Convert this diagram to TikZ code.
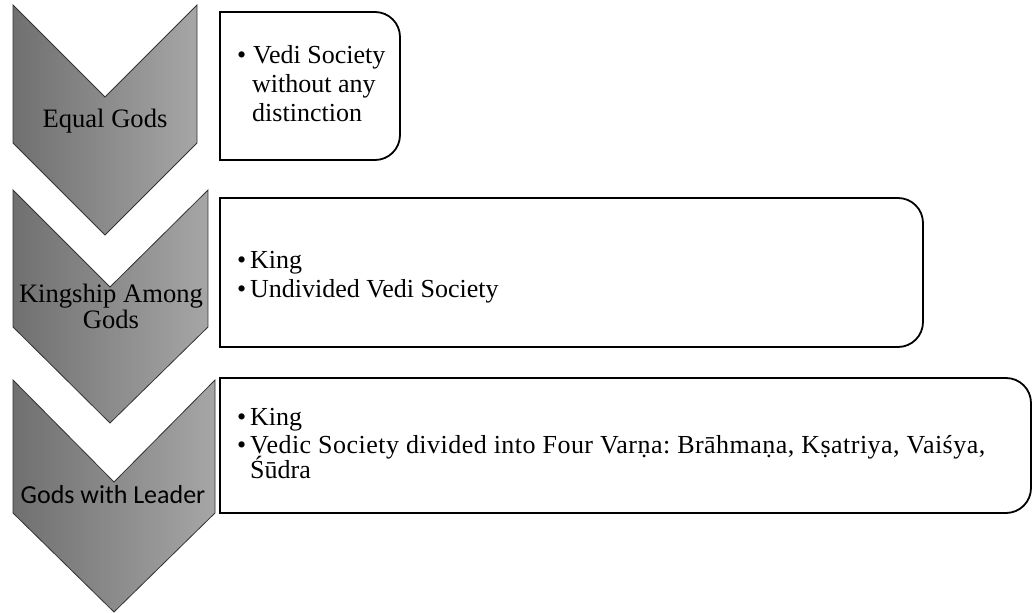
\documentclass[tikz,border=0pt]{standalone}
\usepackage{fontspec}
\setmainfont{Liberation Serif}
\newfontfamily\carlito{Carlito}
\frenchspacing
\begin{document}
\begin{tikzpicture}[x=1pt,y=1pt,
  chev/.style={draw=black!80,line width=0.8pt,left color={rgb,255:red,112;green,112;blue,112},right color={rgb,255:red,166;green,166;blue,166}},
  boxline/.style={draw=black,line width=1.8pt,fill=white},
  lab/.style={font=\fontsize{26.6}{29}\selectfont,inner sep=0pt,anchor=base},
  txt/.style={font=\fontsize{26}{29}\selectfont,inner sep=0pt,anchor=base west}]
\useasboundingbox (0,0) rectangle (1034,-613);
% chevrons
\path[chev] (13,-5) -- (105,-97) -- (197,-5) -- (197,-143) -- (105,-235) -- (13,-143) -- cycle;
\path[chev] (13,-190) -- (110,-287) -- (208,-190) -- (208,-327) -- (110,-423) -- (13,-327) -- cycle;
\path[chev] (13,-380) -- (114,-482) -- (215,-380) -- (215,-513) -- (114,-612) -- (13,-513) -- cycle;
\node[lab] (c1) at (105,-127) {Equal Gods};
\node[lab] (c2a) at (111,-302) {Kingship Among};
\node[lab] (c2b) at (111,-328) {Gods};
\node[lab,font=\carlito\fontsize{26}{29}\selectfont] (c3) at (113,-503) {Gods with Leader};
% boxes
\path[boxline] (220,-12) -- (375,-12) arc[start angle=90,end angle=0,radius=25] -- (400,-135) arc[start angle=0,end angle=-90,radius=25] -- (220,-160) -- cycle;
\path[boxline] (220,-198) -- (898,-198) arc[start angle=90,end angle=0,radius=25] -- (923,-322) arc[start angle=0,end angle=-90,radius=25] -- (220,-347) -- cycle;
\path[boxline] (220,-378) -- (1006,-378) arc[start angle=90,end angle=0,radius=25] -- (1031,-488) arc[start angle=0,end angle=-90,radius=25] -- (220,-513) -- cycle;
% box texts
\node[txt] (b1d) at (237,-63) {•};
\node[txt] (b1a) at (253,-63) {Vedi Society};
\node[txt] (b1b) at (252,-92) {without any};
\node[txt] (b1c) at (252,-121) {distinction};
\node[txt] (b2d1) at (237,-268) {•};
\node[txt] (b2a) at (250,-268) {King};
\node[txt] (b2d2) at (237,-297) {•};
\node[txt] (b2b) at (250,-297) {Undivided Vedi Society};
\node[txt] (b3d1) at (237,-425) {•};
\node[txt] (b3a) at (250,-425) {King};
\node[txt] (b3d2) at (237,-453) {•};
\node[txt] (b3b) at (250,-453) {\addfontfeatures{LetterSpace=1.8}Vedic Society divided into Four Varṇa: Brāhmaṇa, Kṣatriya, Vaiśya,};
\node[txt] (b3c) at (250,-478) {Śūdra};
\end{tikzpicture}
\end{document}
